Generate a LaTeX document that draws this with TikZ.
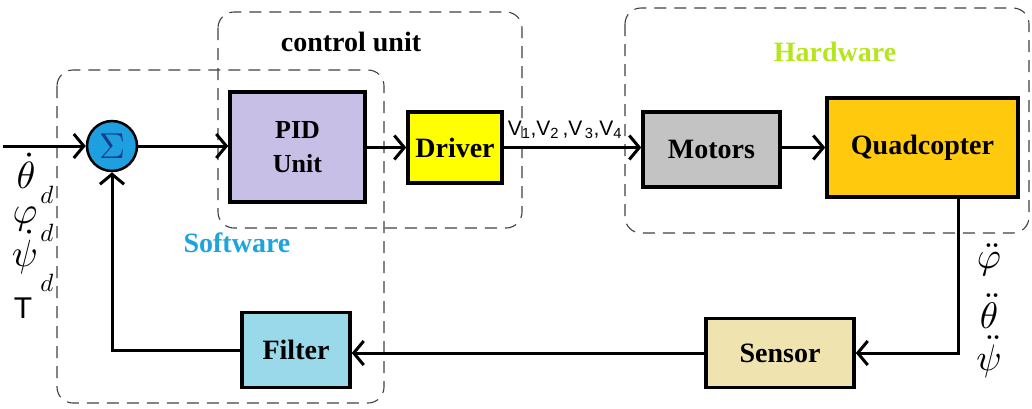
\documentclass[tikz,border=0pt]{standalone}
\usepackage{fontspec}
\setmainfont{Liberation Serif}
\setsansfont{Liberation Sans}
\usetikzlibrary{arrows.meta}
\definecolor{sumc}{HTML}{1E9FE0}
\definecolor{pidc}{HTML}{C8BFE7}
\definecolor{drvc}{HTML}{FFFF00}
\definecolor{motc}{HTML}{C3C3C3}
\definecolor{quadc}{HTML}{FFC90E}
\definecolor{filc}{HTML}{99D9EA}
\definecolor{senc}{HTML}{EFE4B0}
\definecolor{hwc}{HTML}{B5E61D}
\definecolor{swc}{HTML}{1EA3DC}
\definecolor{grpc}{HTML}{404040}
\definecolor{sigc}{HTML}{1A3C8C}
\newcommand{\fs}[1]{\fontsize{#1}{#1}\selectfont}
\newcommand{\mysym}[2]{\scalebox{#1}{$#2$}}
\begin{document}
\begin{tikzpicture}[x=1pt,y=-1pt,
  grp/.style={draw=grpc, line width=1.1pt, dash pattern=on 12pt off 8pt, rounded corners=16pt},
  blk/.style={draw=black, line width=3.5pt, align=center, inner sep=0pt, font=\bfseries\fs{28}},
  conn/.style={draw=black, line width=3pt, -{Straight Barb[length=10pt,width=24pt]}},
  lbl/.style={inner sep=0pt, font=\bfseries\fs{28}},
  mth/.style={inner sep=0pt, font=\fs{10}}]
\useasboundingbox (0,0) rectangle (1032,408);
% groups
\draw[grp] (57,70) rectangle (384,403);
\draw[grp] (218,12) rectangle (522,228);
\draw[grp] (625,8) rectangle (1029,233);
% blocks
\node[circle, draw=black, line width=2.5pt, fill=sumc, minimum size=50pt, inner sep=0pt, font=\fs{10}, text=sigc] (sum) at (112,146) {\mysym{3.6}{\Sigma}};
\node[blk, fill=pidc, minimum width=135pt, minimum height=110pt, font=\bfseries\fs{26}] (pid) at (297.5,147) {PID\\[8pt]Unit};
\node[blk, fill=drvc, minimum width=94pt, minimum height=71pt] (drv) at (455,147.5) {Driver};
\node[blk, fill=motc, minimum width=137pt, minimum height=75pt] (mot) at (711.5,149.5) {Motors};
\node[blk, fill=quadc, minimum width=191pt, minimum height=99pt] (quad) at (922.5,147.5) {Quadcopter};
\node[blk, fill=filc, minimum width=108pt, minimum height=75pt] (fil) at (296,350) {Filter};
\node[blk, fill=senc, minimum width=148pt, minimum height=69pt] (sen) at (780,353) {Sensor};
% group labels
\node[lbl] (cul) at (351,42) {control unit};
\node[lbl, text=hwc] (hwl) at (835,52) {Hardware};
\node[lbl, text=swc] (swl) at (237,243) {Software};
% connectors
\coordinate (in) at (3,146);
\coordinate (qd) at (958,197);
\draw[conn] (in) -- (sum.west);
\draw[conn] (sum.east) -- (sum.east -| pid.west);
\draw[conn] (pid.east |- drv.west) -- (drv.west);
\draw[conn] (drv.east) -- (drv.east -| mot.west);
\draw[conn] (mot.east |- quad.west) -- (quad.west);
\draw[conn] (qd) |- (sen.east);
\draw[conn] (sen.west) -- (sen.west -| fil.east);
\draw[conn] (fil.west) -| (sum.south);
% signal label
\node[inner sep=0pt, font=\sffamily\fs{21}] (vl) at (565,130) {V\textsubscript{1},V\textsubscript{2}\,,V\textsubscript{\,3},V\textsubscript{4}};
% left inputs
\node[mth] (th) at (26,171) {\mysym{3.8}{\dot\theta}};
\node[mth] (d1) at (47,195) {\mysym{2.5}{d}};
\node[mth] (ph) at (25,219) {\mysym{3.8}{\varphi}};
\node[mth] (d2) at (47,233) {\mysym{2.5}{d}};
\node[mth] (ps) at (25,252) {\mysym{3.8}{\dot\psi}};
\node[mth] (d3) at (47,283) {\mysym{2.5}{d}};
\node[inner sep=0pt, font=\sffamily\fs{30}] (tt) at (23,308) {T};
% outputs
\node[mth] (oph) at (989,260) {\mysym{3.7}{\ddot\varphi}};
\node[mth] (oth) at (989,311) {\mysym{3.7}{\ddot\theta}};
\node[mth] (ops) at (989,357) {\mysym{3.7}{\ddot\psi}};
\end{tikzpicture}
\end{document}
